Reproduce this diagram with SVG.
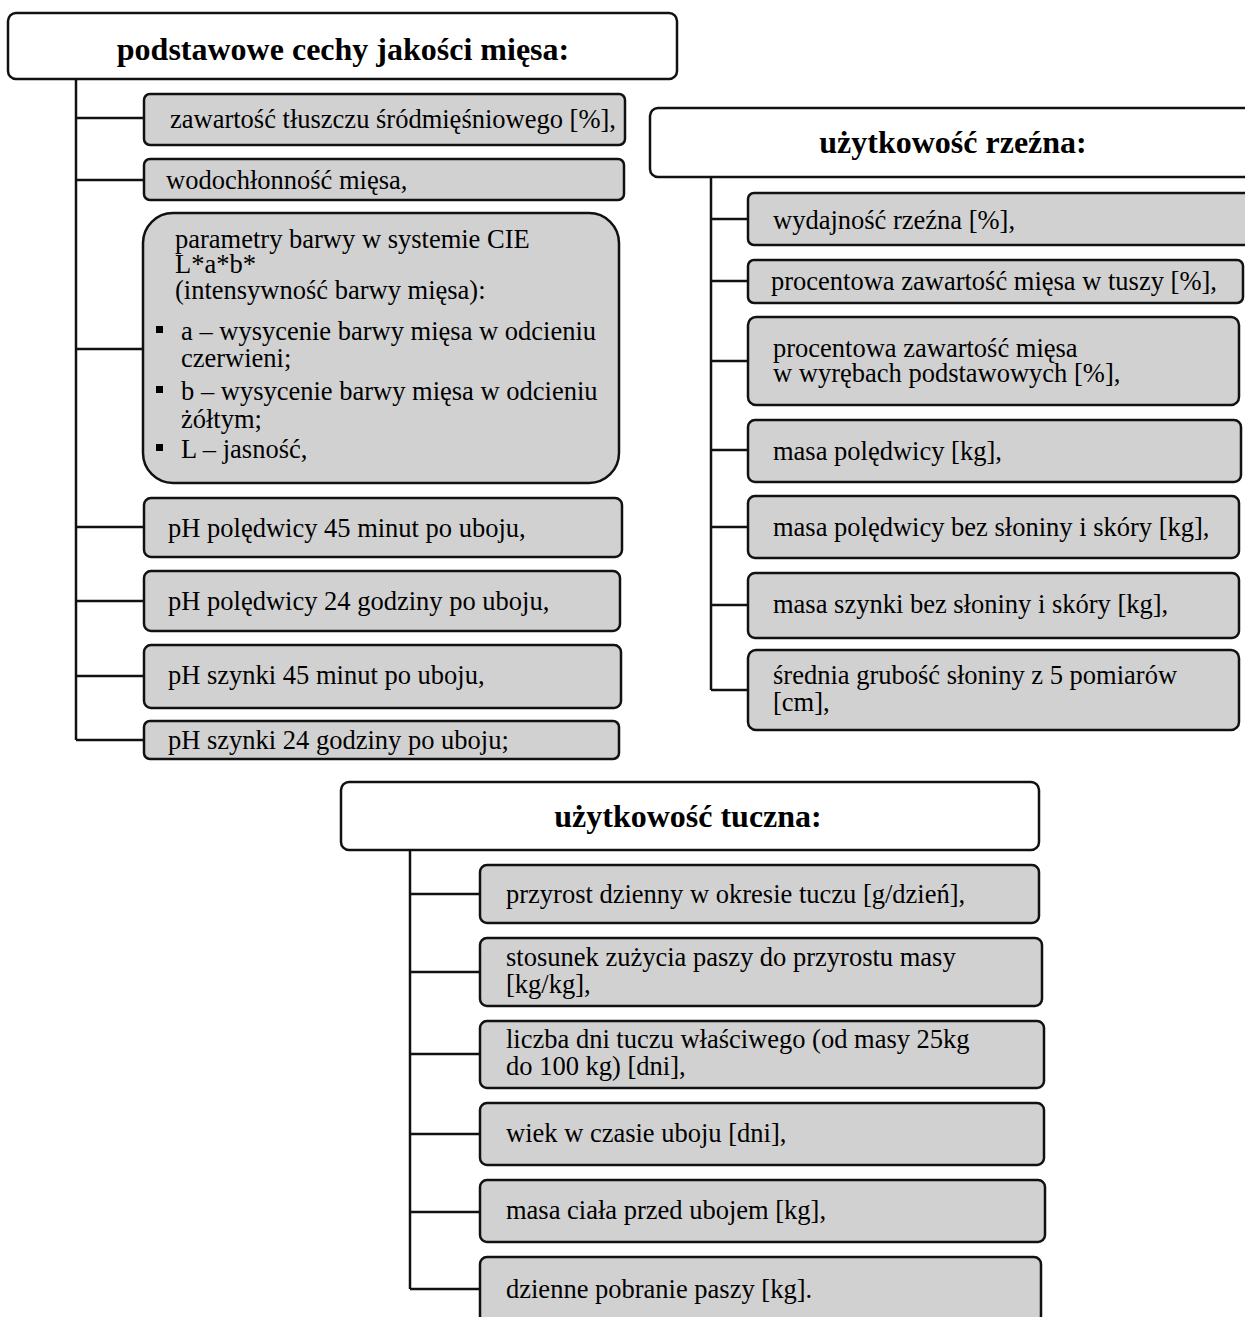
<svg xmlns="http://www.w3.org/2000/svg" width="1245" height="1317" viewBox="0 0 1245 1317">
<style>
.hdr{fill:#ffffff;stroke:#111;stroke-width:2.5}
.box{fill:#d1d1d1;stroke:#111;stroke-width:2.5}
.ht{font-family:"Liberation Serif","Times New Roman",serif;font-weight:bold;font-size:32px;fill:#000;text-anchor:middle}
.t{font-family:"Liberation Serif","Times New Roman",serif;font-size:26.5px;fill:#000}
.ln{stroke:#111;stroke-width:2.5;fill:none}
</style>
<rect width="1245" height="1317" fill="#fff"/>
<g id="connectors">
<path class="ln" d="M76 79V740M76 118H144M76 180H144M76 349H144M76 527H144M76 601H144M76 676H144M76 740H144"/>
<path class="ln" d="M711 177V690M711 219H748M711 281H748M711 361H748M711 450H748M711 527H748M711 605H748M711 690H748"/>
<path class="ln" d="M410 850V1289M410 894H480M410 972H480M410 1054H480M410 1134H480M410 1212H480M410 1289H480"/>
</g>
<g id="h1"><rect class="hdr" x="8" y="13" width="669" height="66" rx="8"/><text class="ht" x="343" y="60">podstawowe cechy jakości mięsa:</text></g>
<g id="l1"><rect class="box" x="144" y="94" width="481" height="51" rx="6"/><text class="t" x="170" y="128">zawartość tłuszczu śródmięśniowego [%],</text></g>
<g id="l2"><rect class="box" x="144" y="159" width="480" height="41" rx="6"/><text class="t" x="166" y="189">wodochłonność mięsa,</text></g>
<g id="l3"><rect class="box" x="143" y="213" width="476" height="270" rx="30"/>
<text class="t" x="175" y="248">parametry barwy w systemie CIE</text>
<text class="t" x="175" y="273">L*a*b*</text>
<text class="t" x="175" y="299">(intensywność barwy mięsa):</text>
<rect x="156" y="326" width="7" height="7" fill="#000"/><text class="t" x="181" y="340">a – wysycenie barwy mięsa w odcieniu</text>
<text class="t" x="181" y="367">czerwieni;</text>
<rect x="156" y="386" width="7" height="7" fill="#000"/><text class="t" x="181" y="400">b – wysycenie barwy mięsa w odcieniu</text>
<text class="t" x="181" y="428">żółtym;</text>
<rect x="156" y="444" width="7" height="7" fill="#000"/><text class="t" x="181" y="458">L – jasność,</text></g>
<g id="l4"><rect class="box" x="144" y="498" width="478" height="59" rx="7"/><text class="t" x="168" y="537">pH polędwicy 45 minut po uboju,</text></g>
<g id="l5"><rect class="box" x="144" y="571" width="476" height="60" rx="7"/><text class="t" x="168" y="610">pH polędwicy 24 godziny po uboju,</text></g>
<g id="l6"><rect class="box" x="144" y="645" width="477" height="63" rx="7"/><text class="t" x="168" y="684">pH szynki 45 minut po uboju,</text></g>
<g id="l7"><rect class="box" x="144" y="721" width="475" height="38" rx="6"/><text class="t" x="168" y="749">pH szynki 24 godziny po uboju;</text></g>
<g id="h2"><rect class="hdr" x="650" y="108" width="610" height="69" rx="8"/><text class="ht" x="953" y="153">użytkowość rzeźna:</text></g>
<g id="r1"><rect class="box" x="748" y="193" width="510" height="52" rx="6"/><text class="t" x="773" y="229">wydajność rzeźna [%],</text></g>
<g id="r2"><rect class="box" x="748" y="260" width="495" height="43" rx="6"/><text class="t" x="771" y="290">procentowa zawartość mięsa w tuszy [%],</text></g>
<g id="r3"><rect class="box" x="748" y="317" width="491" height="88" rx="8"/><text class="t" x="773" y="357">procentowa zawartość mięsa</text><text class="t" x="773" y="382">w wyrębach podstawowych [%],</text></g>
<g id="r4"><rect class="box" x="748" y="420" width="493" height="62" rx="7"/><text class="t" x="773" y="460">masa polędwicy [kg],</text></g>
<g id="r5"><rect class="box" x="748" y="496" width="491" height="62" rx="7"/><text class="t" x="773" y="536">masa polędwicy bez słoniny i skóry [kg],</text></g>
<g id="r6"><rect class="box" x="748" y="573" width="491" height="65" rx="7"/><text class="t" x="773" y="613">masa szynki bez słoniny i skóry [kg],</text></g>
<g id="r7"><rect class="box" x="748" y="650" width="491" height="80" rx="8"/><text class="t" x="773" y="684">średnia grubość słoniny z 5 pomiarów</text><text class="t" x="773" y="711">[cm],</text></g>
<g id="h3"><rect class="hdr" x="341" y="782" width="698" height="68" rx="8"/><text class="ht" x="688" y="827">użytkowość tuczna:</text></g>
<g id="t1"><rect class="box" x="480" y="865" width="559" height="58" rx="7"/><text class="t" x="506" y="903">przyrost dzienny w okresie tuczu [g/dzień],</text></g>
<g id="t2"><rect class="box" x="480" y="938" width="562" height="68" rx="7"/><text class="t" x="506" y="966">stosunek zużycia paszy do przyrostu masy</text><text class="t" x="506" y="993">[kg/kg],</text></g>
<g id="t3"><rect class="box" x="480" y="1021" width="564" height="67" rx="7"/><text class="t" x="506" y="1048">liczba dni tuczu właściwego (od masy 25kg</text><text class="t" x="506" y="1075">do 100 kg) [dni],</text></g>
<g id="t4"><rect class="box" x="480" y="1103" width="564" height="62" rx="7"/><text class="t" x="506" y="1142">wiek w czasie uboju [dni],</text></g>
<g id="t5"><rect class="box" x="480" y="1180" width="565" height="62" rx="7"/><text class="t" x="506" y="1219">masa ciała przed ubojem [kg],</text></g>
<g id="t6"><rect class="box" x="480" y="1257" width="561" height="66" rx="7"/><text class="t" x="506" y="1298">dzienne pobranie paszy [kg].</text></g>
</svg>
